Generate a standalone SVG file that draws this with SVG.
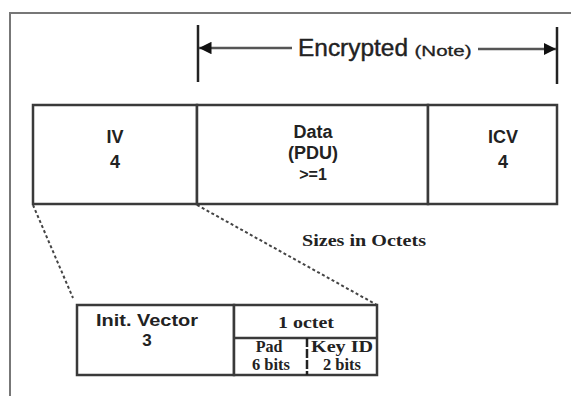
<svg xmlns="http://www.w3.org/2000/svg" width="571" height="396" viewBox="0 0 571 396">
<style>
.box{fill:#fff;stroke:#3a3a3a;stroke-width:2.5}
.bar{stroke:#222;stroke-width:2.5}
.frame{stroke:#777;stroke-width:2;fill:none}
.dash{stroke:#444;stroke-width:2;stroke-dasharray:3 2.5;fill:none}
.sb{font-family:"Liberation Sans",Arial,sans-serif;font-weight:bold;fill:#222;text-anchor:middle}
.sr{font-family:"Liberation Sans",Arial,sans-serif;fill:#222;text-anchor:middle}
.tb{font-family:"Liberation Serif","Times New Roman",serif;font-weight:bold;fill:#222;text-anchor:middle}
</style>
<defs>
<marker id="ah" viewBox="0 0 10 10" refX="10" refY="5" markerWidth="5" markerHeight="5" orient="auto-start-reverse" markerUnits="strokeWidth">
<path d="M0,0 L10,5 L0,10 Z" fill="#111"/>
</marker>
</defs>
<rect width="571" height="396" fill="#fff"/>
<g id="frame">
<path class="frame" d="M10,396 L10,13 L571,13"/>
</g>
<g id="connectors">
<line class="bar" x1="198" y1="25" x2="198" y2="82"/>
<line class="bar" x1="557" y1="27" x2="557" y2="84"/>
<line x1="199" y1="48" x2="292" y2="48" stroke="#555" stroke-width="2.5" marker-start="url(#ah)"/>
<line x1="478" y1="49" x2="556" y2="49" stroke="#555" stroke-width="2.5" marker-end="url(#ah)"/>
<line class="dash" x1="33" y1="205" x2="73" y2="298"/>
<line class="dash" x1="197" y1="205" x2="377" y2="305"/>
</g>
<g id="encrypted">
<text class="sr" x="353" y="56" font-size="23" stroke="#222" stroke-width="0.4" textLength="110" lengthAdjust="spacingAndGlyphs">Encrypted</text>
<text class="sr" x="443" y="56" font-size="15" stroke="#222" stroke-width="0.3" textLength="57" lengthAdjust="spacingAndGlyphs">(Note)</text>
</g>
<g id="iv">
<rect class="box" x="33" y="105" width="164" height="99"/>
<text class="sb" x="115" y="143" font-size="18">IV</text>
<text class="sb" x="115" y="168" font-size="18">4</text>
</g>
<g id="data">
<rect class="box" x="197" y="105" width="231" height="99"/>
<text class="sb" x="313" y="138" font-size="18">Data</text>
<text class="sb" x="313" y="159" font-size="18">(PDU)</text>
<text class="sb" x="313" y="180" font-size="16">&gt;=1</text>
</g>
<g id="icv">
<rect class="box" x="428" y="105" width="129" height="99"/>
<text class="sb" x="503" y="143" font-size="18">ICV</text>
<text class="sb" x="503" y="168" font-size="18">4</text>
</g>
<g id="sizes">
<text class="tb" x="364" y="246" font-size="17" textLength="124" lengthAdjust="spacingAndGlyphs">Sizes in Octets</text>
</g>
<g id="initvector">
<rect class="box" x="77" y="305" width="157" height="70"/>
<text class="sb" x="147" y="326" font-size="17" textLength="102" lengthAdjust="spacingAndGlyphs">Init. Vector</text>
<text class="sb" x="147" y="346" font-size="17">3</text>
</g>
<g id="octet">
<rect class="box" x="234" y="305" width="143" height="70"/>
<line x1="234" y1="338" x2="377" y2="338" stroke="#3a3a3a" stroke-width="2.5"/>
<line x1="307" y1="338" x2="307" y2="375" stroke="#222" stroke-width="2.5" stroke-dasharray="9 2"/>
<text class="tb" x="306" y="328" font-size="17" textLength="56" lengthAdjust="spacingAndGlyphs">1 octet</text>
<text class="tb" x="269" y="352" font-size="16">Pad</text>
<text class="tb" x="271" y="370" font-size="16" textLength="38" lengthAdjust="spacingAndGlyphs">6 bits</text>
<text class="tb" x="342" y="352" font-size="16" textLength="62" lengthAdjust="spacingAndGlyphs">Key ID</text>
<text class="tb" x="342" y="370" font-size="16" textLength="38" lengthAdjust="spacingAndGlyphs">2 bits</text>
</g>
</svg>
